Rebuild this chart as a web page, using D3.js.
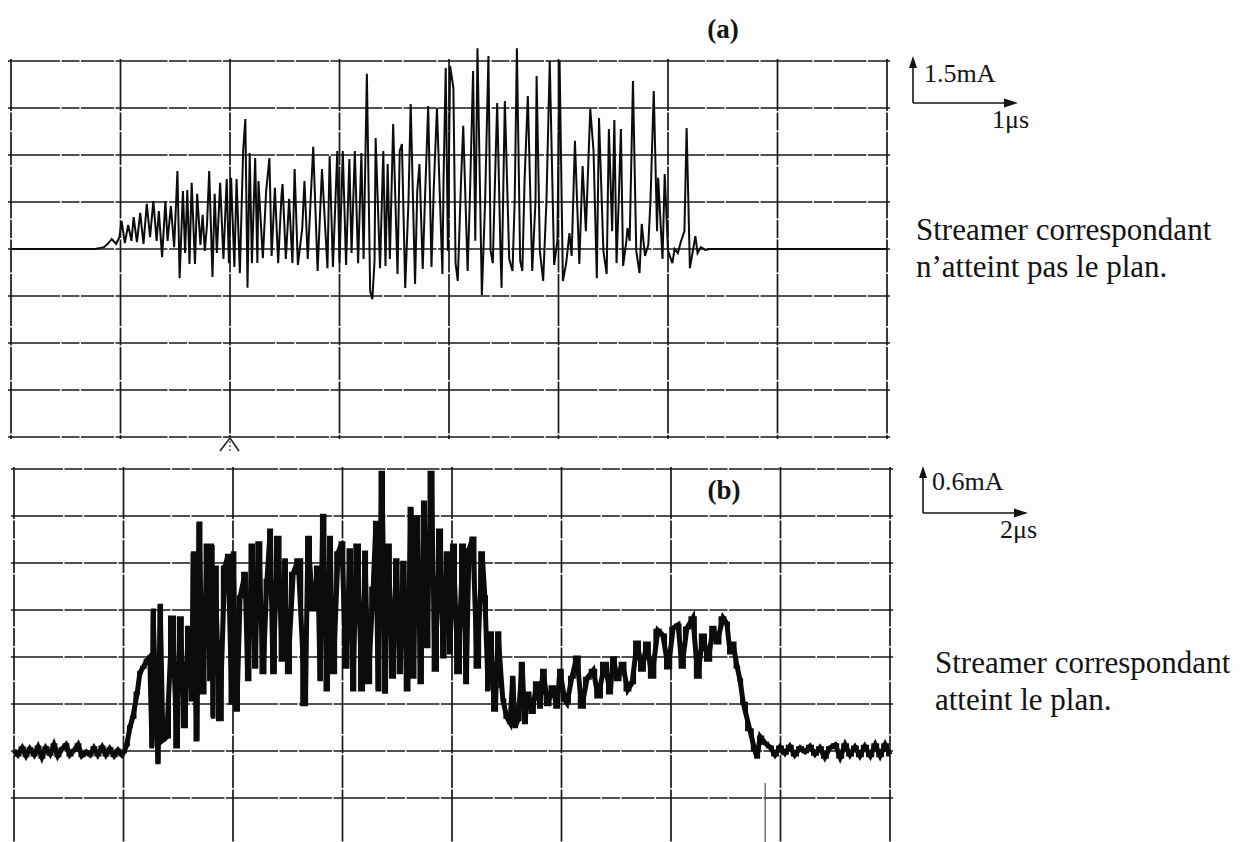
<!DOCTYPE html>
<html>
<head>
<meta charset="utf-8">
<script src="https://cdn.jsdelivr.net/npm/d3@7/dist/d3.min.js"></script>
<style>
  body { margin: 0; background: #fdfdfd; }
</style>
</head>
<body>
<svg id="chart" width="1256" height="842"></svg>
<script>
// ---- Oscillogram (a): streamer does not reach the plane ----
// time in µs, current in mA (1 µs/div, 1.5 mA/div)
const timeA = [0,0.77,0.85,0.89,0.92,0.96,0.99,1.01,1.04,1.07,
  1.10,1.12,1.15,1.18,1.21,1.24,1.27,1.30,1.33,1.35,
  1.38,1.41,1.43,1.46,1.49,1.52,1.54,1.57,1.59,1.61,
  1.63,1.65,1.68,1.70,1.73,1.75,1.77,1.79,1.81,1.84,
  1.86,1.88,1.91,1.94,1.97,1.99,2.01,2.04,2.06,2.09,
  2.12,2.14,2.16,2.18,2.20,2.23,2.25,2.26,2.30,2.33,
  2.36,2.38,2.41,2.44,2.47,2.48,2.51,2.54,2.57,2.59,
  2.62,2.66,2.68,2.71,2.76,2.80,2.84,2.89,2.91,2.94,
  2.98,3.00,3.03,3.06,3.09,3.11,3.14,3.17,3.20,3.22,
  3.25,3.28,3.30,3.32,3.33,3.37,3.40,3.42,3.44,3.46,
  3.49,3.53,3.55,3.57,3.60,3.63,3.65,3.69,3.71,3.73,
  3.76,3.78,3.81,3.84,3.86,3.89,3.94,3.95,3.97,3.99,
  4.01,4.04,4.06,4.08,4.11,4.13,4.17,4.19,4.22,4.24,
  4.26,4.30,4.33,4.36,4.38,4.40,4.42,4.44,4.47,4.48,
  4.51,4.55,4.58,4.60,4.62,4.65,4.67,4.69,4.72,4.76,
  4.79,4.80,4.83,4.86,4.89,4.92,4.96,4.99,5.01,5.04,
  5.07,5.10,5.12,5.15,5.19,5.22,5.25,5.29,5.32,5.35,
  5.37,5.41,5.44,5.46,5.49,5.51,5.53,5.55,5.57,5.59,
  5.62,5.63,5.65,5.68,5.71,5.74,5.76,5.79,5.82,5.84,
  5.87,5.90,5.91,5.95,5.97,6.00,6.04,6.06,6.09,6.12,
  6.15,6.17,6.20,6.23,6.25,6.27,6.30,6.34,6.38,8.0];
const currentA = [0,0,0.06,0.19,0.32,0.16,0.38,0.89,0.19,0.77,
  0.26,1.02,0.22,1.15,0.16,1.44,0.38,1.53,0.26,1.21,
  -0.26,1.53,0.26,1.37,0.06,2.49,-0.93,1.85,-0.13,1.88,
  -0.48,2.11,-0.48,1.76,0.13,1.09,-0.06,0.77,2.49,-0.89,
  1.76,-0.13,2.11,-0.32,2.23,-0.45,2.27,-0.57,2.23,-0.77,
  3.13,4.15,-1.24,3.06,-0.45,2.90,-0.45,2.17,-0.29,1.85,
  2.90,-0.22,1.95,-0.45,1.69,2.07,-0.32,1.60,-0.45,2.55,
  -0.51,0.67,2.17,-0.32,3.26,-0.70,2.55,-0.61,2.97,-0.57,
  3.13,-0.45,3.13,-0.51,2.87,-0.13,3.13,-0.45,3.06,-0.32,
  5.59,-1.34,-1.60,-0.38,3.54,-0.61,3.13,-0.54,2.71,-0.32,
  3.99,-0.80,3.13,3.35,-1.24,1.53,4.63,-1.12,1.85,2.71,
  -0.64,1.53,4.56,-0.57,1.85,4.50,-0.80,2.17,5.78,-0.06,
  5.84,5.14,-0.45,-1.02,2.17,3.93,-0.70,1.53,5.68,0.26,
  6.41,-1.47,1.53,6.16,-0.06,-0.45,2.17,4.66,-0.06,-1.24,
  4.72,-0.32,-0.70,1.53,6.41,-0.38,-0.70,2.17,4.88,-0.70,
  1.53,5.52,-0.06,-1.02,1.53,6.00,-0.51,0.26,6.00,-1.02,
  -0.45,0.51,-0.22,3.45,-0.48,2.65,0.57,4.47,3.13,-0.93,
  4.18,-0.06,-0.80,3.83,0.57,4.12,-0.45,1.53,3.83,-0.54,
  0.26,0.67,0.26,5.36,-0.06,-0.77,0.80,-0.22,0.13,1.53,
  5.04,0.57,2.27,-0.32,2.39,-0.06,-0.45,0,-0.13,0.26,
  0.57,3.86,-0.61,0,0.41,-0.13,0.06,-0.03,0,0];

// ---- Oscillogram (b): streamer reaches the plane ----
// time in µs, current in mA (2 µs/div, 0.6 mA/div)
const timeB = [0,0.07,0.15,0.22,0.29,0.37,0.44,0.51,0.58,0.66,
  0.73,0.80,0.88,0.95,1.02,1.10,1.17,1.24,1.32,1.39,
  1.46,1.53,1.61,1.68,1.75,1.83,1.90,1.97,2.01,
  2.06,2.12,2.17,2.25,2.30,2.36,2.43,2.48,2.52,2.54,
  2.59,2.63,2.67,2.72,2.79,2.89,2.98,3.03,3.12,3.18,
  3.25,3.27,3.34,3.38,3.45,3.53,3.58,3.62,3.63,3.67,
  3.76,3.85,3.91,3.98,4.00,4.07,4.13,4.22,4.27,4.35,
  4.40,4.47,4.55,4.62,4.68,4.73,4.82,4.90,4.95,5.00,
  5.10,5.19,5.32,5.37,5.46,5.55,5.59,5.64,5.72,5.77,
  5.83,5.92,5.99,6.06,6.14,6.19,6.26,6.36,6.41,6.47,
  6.56,6.61,6.65,6.72,6.78,6.83,6.92,6.98,7.05,7.11,
  7.18,7.25,7.29,7.36,7.43,7.49,7.54,7.62,7.69,7.78,
  7.84,7.91,7.96,8.02,8.11,8.20,8.26,8.31,8.38,8.46,
  8.55,8.60,8.66,8.69,8.79,8.84,8.91,8.93,9.00,9.06,
  9.11,9.15,9.21,9.28,9.33,9.39,9.46,9.55,9.61,9.66,
  9.75,9.83,9.92,9.97,10.06,10.10,10.19,10.28,10.37,10.47,
  10.58,10.67,10.79,10.89,10.94,11.03,11.11,11.21,11.29,11.38,
  11.47,11.56,11.65,11.76,11.85,11.95,12.04,12.13,12.20,12.29,
  12.40,12.49,12.58,12.68,12.77,12.84,12.95,13.02,13.08,13.13,
  13.21,13.26,13.32,13.44,13.53,13.57,13.63,13.72,13.81,13.90,
  13.99,14.08,14.17,14.26,14.36,14.45,14.54,14.63,14.72,14.81,
  14.90,15.00,15.09,15.18,15.27,15.36,15.45,15.54,15.64,15.73,
  15.82,15.91,16.00];
const currentB = [0,-0.05,0.04,-0.06,0.03,-0.05,0.05,-0.08,0.04,-0.04,
  0.08,-0.06,0.03,0.08,-0.05,0.01,0.08,-0.06,-0.01,-0.05,
  0.04,-0.05,0.05,-0.05,0.03,-0.06,0.01,-0.05,-0.01,
  0.08,0.31,0.43,0.74,1.00,1.07,1.16,1.20,0.05,1.80,
  0.65,-0.15,1.86,0.14,0.18,1.71,0.05,1.70,0.31,1.58,
  0.65,2.53,0.14,2.91,0.74,2.63,0.91,2.63,0.43,2.35,
  0.40,2.35,2.50,0.61,2.53,0.52,1.97,2.27,0.91,2.63,
  1.07,2.66,1.00,2.18,2.82,1.00,2.73,1.16,2.44,1.00,
  2.27,2.44,0.59,2.73,1.80,2.35,0.91,3.01,0.78,2.73,
  1.00,2.53,2.66,1.07,2.57,0.78,2.63,0.78,2.54,0.87,
  2.08,2.92,0.78,3.56,0.75,2.63,0.94,2.44,1.00,2.41,
  0.78,3.10,0.94,2.99,0.87,3.18,1.33,3.56,1.03,2.82,
  1.20,2.53,1.25,2.63,1.00,2.63,0.87,2.57,2.72,1.07,
  2.53,1.97,0.78,1.51,0.52,1.51,0.82,0.65,0.43,0.36,
  0.94,0.31,0.40,1.12,0.36,0.74,0.49,0.87,0.56,1.03,
  0.59,0.82,0.56,1.03,0.65,0.61,0.94,1.20,0.56,0.93,
  1.03,0.69,1.12,0.74,1.19,0.91,1.12,0.78,0.87,1.39,
  1.03,1.38,0.94,1.54,1.48,1.06,1.57,1.61,1.07,1.57,
  1.70,0.94,1.48,1.16,1.58,1.38,1.70,1.63,1.25,1.38,
  1.07,0.91,0.61,0.27,0.01,-0.08,0.18,0.10,0.05,-0.05,
  0.05,-0.03,0.06,-0.05,0.04,-0.01,0.06,-0.04,0.04,-0.08,
  0.04,0.08,-0.08,0.08,-0.05,0.05,-0.06,0.06,-0.06,0.08,
  -0.06,0.08,-0.05];

// graticule: 8 x 8 divisions per screen
const divisions = 8;
const timePerDivA = 1, currentPerDivA = 1.5;   // µs/div, mA/div
const timePerDivB = 2, currentPerDivB = 0.6;
const offsetDivsA = 4;   // baseline sits 4 div below the top in (a)
const offsetDivsB = 6;   // and 6 div below the top in (b)
const markerA = 2.0;     // trigger mark under screen (a), µs
const markerB = 13.72;   // thin vertical mark in screen (b), µs

const scaleLabelsA = ["1.5mA", "1\u03bcs"];
const scaleLabelsB = ["0.6mA", "2\u03bcs"];
const captionA = ["Streamer correspondant", "n\u2019atteint pas le plan."];
const captionB = ["Streamer correspondant", "atteint le plan."];

const serif = "'Liberation Serif', 'Times New Roman', Times, serif";
const ink = "#141414";

const svg = d3.select("#chart");
svg.append("rect").attr("width", 1256).attr("height", 842).attr("fill", "#fdfdfd");

function drawScreen(cfg) {
  const tMax = divisions * cfg.tDiv;
  const iMax = cfg.offset * cfg.iDiv;
  const iMin = iMax - divisions * cfg.iDiv;
  const x = d3.scaleLinear().domain([0, tMax]).range([cfg.left, cfg.right]);
  const y = d3.scaleLinear().domain([iMin, iMax]).range([cfg.bottom, cfg.top]);
  const g = svg.append("g");

  // graticule lines (slightly broken, as printed)
  const grid = g.append("g")
    .attr("stroke", "#181818").attr("stroke-width", 1.7)
    .attr("stroke-dasharray", "52,1.5,18,1.5,33,1.5").attr("fill", "none");
  const tTicks = d3.range(0, divisions + 1).map(k => k * cfg.tDiv);
  const iTicks = d3.range(0, divisions + 1).map(k => iMin + k * cfg.iDiv);
  grid.selectAll("line.v").data(tTicks).join("line").attr("class", "v")
    .attr("x1", d => x(d)).attr("x2", d => x(d))
    .attr("y1", cfg.top - 2).attr("y2", cfg.bottom + 2);
  grid.selectAll("line.h").data(iTicks).join("line").attr("class", "h")
    .attr("x1", cfg.left - 3).attr("x2", cfg.right + 3)
    .attr("y1", d => y(d)).attr("y2", d => y(d));

  // current trace; each layer is one stroke of the same samples
  const pts = d3.zip(cfg.time, cfg.current);
  cfg.layers.forEach(layer => {
    g.append("path")
      .datum(pts)
      .attr("fill", "none")
      .attr("stroke", "#0c0c0c")
      .attr("stroke-width", layer.lw)
      .attr("stroke-linejoin", "miter")
      .attr("d", d3.line().curve(layer.curve).x(d => x(d[0])).y(d => y(d[1])));
  });

  return { x, y, g };
}

const A = drawScreen({ left: 11, right: 887, top: 61, bottom: 437,
  tDiv: timePerDivA, iDiv: currentPerDivA, offset: offsetDivsA,
  time: timeA, current: currentA,
  layers: [{ curve: d3.curveLinear, lw: 2.0 }] });
const B = drawScreen({ left: 14, right: 890, top: 469, bottom: 845,
  tDiv: timePerDivB, iDiv: currentPerDivB, offset: offsetDivsB,
  time: timeB, current: currentB,
  layers: [{ curve: d3.curveLinear, lw: 5.0 }, { curve: d3.curveStep, lw: 3.0 }] });

// trigger caret below screen (a)
const mx = A.x(markerA);
svg.append("path")
  .attr("d", `M${mx - 10},${451} L${mx},${438} L${mx + 9},${451}`)
  .attr("fill", "none").attr("stroke", "#222").attr("stroke-width", 1.6);
svg.append("line")
  .attr("x1", mx).attr("x2", mx).attr("y1", 437).attr("y2", 452)
  .attr("stroke", "#444").attr("stroke-width", 1.2).attr("stroke-dasharray", "2,2");

// thin mark inside screen (b)
svg.append("line")
  .attr("x1", B.x(markerB)).attr("x2", B.x(markerB))
  .attr("y1", B.y(-0.41)).attr("y2", 842)
  .attr("stroke", "#444").attr("stroke-width", 1.1);

// screen titles
svg.append("text").attr("x", 723).attr("y", 38).attr("text-anchor", "middle")
  .attr("font-family", serif).attr("fill", ink)
  .attr("font-size", 27).attr("font-weight", "bold").text("(a)");
svg.append("text").attr("x", 724).attr("y", 499).attr("text-anchor", "middle")
  .attr("font-family", serif).attr("fill", ink)
  .attr("font-size", 27).attr("font-weight", "bold").text("(b)");

// scale markers
function scaleMarker(ox, oy, labels, vx, vy, hx, hy) {
  const g = svg.append("g").attr("stroke", ink).attr("stroke-width", 1.6).attr("fill", "none");
  g.append("line").attr("x1", ox).attr("y1", oy).attr("x2", ox).attr("y2", oy - 44);
  g.append("line").attr("x1", ox).attr("y1", oy).attr("x2", ox + 102).attr("y2", oy);
  svg.append("path").attr("fill", ink)
    .attr("d", `M${ox},${oy - 47} L${ox - 4},${oy - 35} L${ox + 4},${oy - 35} Z`);
  svg.append("path").attr("fill", ink)
    .attr("d", `M${ox + 105},${oy} L${ox + 91},${oy - 4.5} L${ox + 91},${oy + 4.5} Z`);
  svg.append("text").attr("x", vx).attr("y", vy).attr("font-size", 26)
    .attr("font-family", serif).attr("fill", ink).text(labels[0]);
  svg.append("text").attr("x", hx).attr("y", hy).attr("font-size", 26)
    .attr("font-family", serif).attr("fill", ink).text(labels[1]);
}
scaleMarker(913, 103, scaleLabelsA, 924, 82, 992, 128);
scaleMarker(923, 513, scaleLabelsB, 932, 490, 1000, 538);

// captions
function caption(x0, y0, lines) {
  const t = svg.append("text").attr("x", x0).attr("y", y0).attr("font-size", 31)
    .attr("font-family", serif).attr("fill", ink);
  lines.forEach((s, i) => t.append("tspan").attr("x", x0).attr("dy", i ? 37 : 0).text(s));
}
caption(916, 240, captionA);
caption(935, 673, captionB);
</script>
</body>
</html>
